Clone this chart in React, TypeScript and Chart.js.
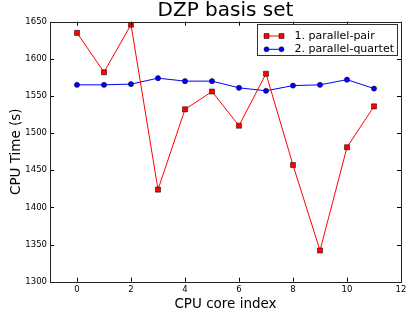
import React, { useEffect, useRef } from 'react';
import { Chart, registerables } from 'chart.js';

Chart.register(...registerables);

const titleText = 'DZP basis set';
const xAxisLabel = 'CPU core index';
const yAxisLabel = 'CPU Time (s)';
const coreIndex = [0, 1, 2, 3, 4, 5, 6, 7, 8, 9, 10, 11];
const pairTimes = [1635, 1582, 1646, 1424, 1532, 1556, 1510, 1580, 1457, 1342, 1481, 1536];
const quartetTimes = [1565, 1565, 1566, 1574, 1570, 1570, 1561, 1557, 1564, 1565, 1572, 1560];
const seriesLabels = ['1. parallel-pair', '2. parallel-quartet'];
const xTicks = [0, 2, 4, 6, 8, 10, 12];
const yTicks = [1300, 1350, 1400, 1450, 1500, 1550, 1600, 1650];

const FONT = "'DejaVu Sans', sans-serif";

const mplPlugin = {
  id: 'mplDecor',
  afterDraw(chart: any) {
    const { ctx, chartArea } = chart;
    const { left, right, top, bottom } = chartArea;
    const xs = chart.scales.x;
    const ys = chart.scales.y;
    ctx.save();
    // inward tick marks on all four sides
    ctx.strokeStyle = '#000';
    ctx.lineWidth = 1;
    const tl = 4;
    ctx.beginPath();
    yTicks.forEach((v) => {
      const y = Math.round(ys.getPixelForValue(v)) + 0.5;
      ctx.moveTo(left, y);
      ctx.lineTo(left + tl, y);
      ctx.moveTo(right, y);
      ctx.lineTo(right - tl, y);
    });
    xTicks.forEach((v) => {
      const x = Math.round(xs.getPixelForValue(v)) + 0.5;
      ctx.moveTo(x, bottom);
      ctx.lineTo(x, bottom - tl);
      ctx.moveTo(x, top);
      ctx.lineTo(x, top + tl);
    });
    ctx.stroke();
    // frame
    ctx.strokeStyle = '#222';
    ctx.strokeRect(Math.round(left) + 0.5, Math.round(top) + 0.5, Math.round(right - left), Math.round(bottom - top));

    // title
    ctx.fillStyle = '#000';
    ctx.font = `20px ${FONT}`;
    ctx.textAlign = 'center';
    ctx.textBaseline = 'alphabetic';
    ctx.fillText(titleText, (left + right) / 2, 16);

    // legend
    const fs = 11;
    ctx.font = `${fs}px ${FONT}`;
    const ds = chart.data.datasets;
    let maxW = 0;
    ds.forEach((d: any) => {
      maxW = Math.max(maxW, ctx.measureText(d.label).width);
    });
    const boxW = Math.round(37 + maxW + 4);
    const boxH = 31;
    const bx = Math.round(right - 4 - boxW) + 0.5;
    const by = Math.round(top + 2) + 0.5;
    ctx.fillStyle = '#fff';
    ctx.fillRect(bx, by, boxW, boxH);
    ctx.strokeStyle = '#333';
    ctx.lineWidth = 1;
    ctx.strokeRect(bx, by, boxW, boxH);
    ds.forEach((d: any, i: number) => {
      const cy = by + 11.5 + i * 13.3;
      const x0 = bx + 9;
      const x1 = bx + 24;
      ctx.strokeStyle = d.borderColor;
      ctx.lineWidth = 1;
      ctx.beginPath();
      ctx.moveTo(x0, cy);
      ctx.lineTo(x1, cy);
      ctx.stroke();
      [x0, x1].forEach((mx) => {
        ctx.fillStyle = d.pointBackgroundColor;
        ctx.strokeStyle = '#000';
        ctx.lineWidth = 0.5;
        ctx.beginPath();
        if (d.pointStyle === 'rect') {
          ctx.rect(mx - 2.5, cy - 2.5, 5, 5);
        } else {
          ctx.arc(mx, cy, 2.5, 0, Math.PI * 2);
        }
        ctx.fill();
        ctx.stroke();
      });
      ctx.fillStyle = '#000';
      ctx.textAlign = 'left';
      ctx.textBaseline = 'middle';
      ctx.fillText(d.label, bx + 37, cy);
    });
    ctx.restore();
  },
};

export default function App() {
  const ref = useRef<HTMLCanvasElement | null>(null);
  useEffect(() => {
    if (!ref.current) return;
    const chart = new Chart(ref.current, {
      type: 'line',
      data: {
        datasets: [
          {
            label: seriesLabels[0],
            data: coreIndex.map((x, i) => ({ x, y: pairTimes[i] })),
            borderColor: '#ff0000',
            borderWidth: 1,
            backgroundColor: '#ff0000',
            pointStyle: 'rect',
            pointRadius: 3.6,
            pointBackgroundColor: '#ff0000',
            pointBorderColor: '#000',
            pointBorderWidth: 0.5,
            tension: 0,
          },
          {
            label: seriesLabels[1],
            data: coreIndex.map((x, i) => ({ x, y: quartetTimes[i] })),
            borderColor: '#0000ff',
            borderWidth: 1,
            backgroundColor: '#0000ff',
            pointStyle: 'circle',
            pointRadius: 2.6,
            pointBackgroundColor: '#0000ff',
            pointBorderColor: '#000',
            pointBorderWidth: 0.5,
            tension: 0,
          },
        ],
      },
      options: {
        responsive: false,
        animation: false,
        layout: { padding: { top: 21.7, right: 14, left: 0, bottom: 0 } },
        plugins: {
          legend: { display: false },
          title: { display: false },
          tooltip: { enabled: false },
        },
        scales: {
          x: {
            type: 'linear',
            min: -1,
            max: 12,
            afterBuildTicks: (axis: any) => {
              axis.ticks = xTicks.map((v) => ({ value: v }));
            },
            afterFit: (scale: any) => {
              scale.height = 38.3;
            },
            grid: { display: false, drawTicks: false },
            border: { display: false },
            ticks: {
              autoSkip: false,
              maxRotation: 0,
              padding: 3,
              color: '#000',
              font: { family: FONT, size: 8.5 },
              callback: (v: any) => String(v),
            },
            title: {
              display: true,
              text: xAxisLabel,
              color: '#000',
              font: { family: FONT, size: 13.5 },
              padding: { top: 0, bottom: 7 },
            },
          },
          y: {
            type: 'linear',
            min: 1300,
            max: 1650,
            afterBuildTicks: (axis: any) => {
              axis.ticks = yTicks.map((v) => ({ value: v }));
            },
            afterFit: (scale: any) => {
              scale.width = 50;
            },
            grid: { display: false, drawTicks: false },
            border: { display: false },
            ticks: {
              padding: 3,
              color: '#000',
              font: { family: FONT, size: 8.5 },
              callback: (v: any) => String(v),
            },
            title: {
              display: true,
              text: yAxisLabel,
              color: '#000',
              font: { family: FONT, size: 13.5 },
              padding: { top: 8, bottom: 0 },
            },
          },
        },
      },
      plugins: [mplPlugin],
    });
    return () => chart.destroy();
  }, []);
  return (
    <div style={{ position: 'fixed', left: 0, top: 0, width: 415, height: 320, background: '#fff' }}>
      <canvas ref={ref} width={415} height={320} style={{ display: 'block' }} />
    </div>
  );
}
